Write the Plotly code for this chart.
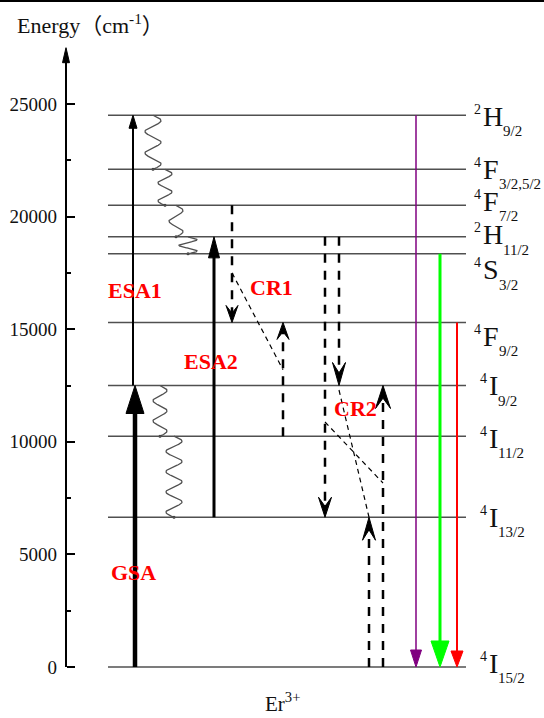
import numpy as np
import plotly.graph_objects as go

# ---- Er3+ energy levels (cm^-1) ----
level_names = ["2H9/2", "4F3/2,5/2", "4F7/2", "2H11/2", "4S3/2",
               "4F9/2", "4I9/2", "4I11/2", "4I13/2", "4I15/2"]
level_energy = [24500, 22100, 20500, 19100, 18350, 15300, 12500, 10250, 6650, 0]
level_mult = ["2", "4", "4", "2", "4", "4", "4", "4", "4", "4"]
level_letter = ["H", "F", "F", "H", "S", "F", "I", "I", "I", "I"]
level_j = ["9/2", "3/2,5/2", "7/2", "11/2", "3/2", "9/2", "9/2", "11/2", "13/2", "15/2"]
label_shift = [-1, 0, 4, 2, -16, -14, 0, -2, 0, 4]   # px offset of each term label

E = dict(zip(level_names, level_energy))

# ---- axis ----
tick_vals = [0, 5000, 10000, 15000, 20000, 25000]
minor_vals = [2500, 7500, 12500, 17500, 22500]
axis_top = 27500

# ---- pumping (solid up arrows): name, column, from, to, width, head w, head l ----
pump_name = ["GSA", "ESA1", "ESA2"]
pump_x = [135, 133, 214]
pump_from = ["4I15/2", "4I9/2", "4I13/2"]
pump_to = ["4I9/2", "2H9/2", "2H11/2"]
pump_width = [4.5, 2, 3]
pump_head = [(18, 28), (8, 13), (11, 21)]

# ---- cross relaxation (dashed arrows) ----
cr_x = [232, 283, 325, 339, 369, 383]
cr_from = ["4F7/2", "4I11/2", "2H11/2", "2H11/2", "4I15/2", "4I15/2"]
cr_to = ["4F9/2", "4F9/2", "4I13/2", "4I9/2", "4I13/2", "4I9/2"]
cr_head = [(12, 17), (12, 17), (13, 20), (13, 23), (13, 23), (15, 23)]
# thin dashed links pairing the CR partners: (x0, E0, x1, E1)
cr_links = [(232, 17500, 283, 13200),
            (325, 10880, 383, 8170),
            (339, 12300, 369, 6650)]

# ---- radiative emission ----
em_x = [416, 440, 457]
em_from = ["2H9/2", "4S3/2", "4F9/2"]
em_color = ["#800080", "#00ff00", "#ff0000"]
em_width = [1.5, 3, 2]
em_head = [(11, 17), (18, 26), (12, 16)]

# ---- non-radiative relaxation squiggles: centre, upper, lower, waves, amplitude ----
nr_x = [153, 165, 176, 188, 160, 174]
nr_upper = ["2H9/2", "4F3/2,5/2", "4F7/2", "2H11/2", "4I9/2", "4I11/2"]
nr_lower = ["4F3/2,5/2", "4F7/2", "2H11/2", "4S3/2", "4I11/2", "4I13/2"]
nr_waves = [2.5, 2, 1.5, 1.5, 2.5, 4]
nr_amp = [8, 7, 7, 9, 7, 8]

# ---- process labels ----
proc_text = ["ESA1", "ESA2", "CR1", "CR2", "GSA"]
proc_x = [135, 211, 271, 355, 133]
proc_y = [16700, 13550, 16850, 11500, 4200]

# ---- geometry ----
W, H = 544, 718
M_T, M_B = 30, 26
PLOT_H = H - M_T - M_B
S = 563 / 25000.0               # px per cm^-1
Y0_PX = 667                     # pixel row of E = 0
y_max = (Y0_PX - M_T) / S
y_min = -(H - M_B - Y0_PX) / S
AXIS_X = 66
LINE_X0, LINE_X1 = 108, 466
SERIF = "Liberation Serif, Times New Roman, serif"


def paper_y(py):
    return (H - M_B - py) / PLOT_H


fig = go.Figure()
shapes = []
annotations = []


def arrow(x, y0, y1, color, width, head_w, head_l, dash=None, barbed=False):
    d = 1 if y1 > y0 else -1
    hl = head_l / S
    base = y1 - d * hl
    notch = y1 - d * hl * 0.55
    shaft_end = notch if barbed else y1 - d * hl * 0.5
    shapes.append(dict(type="line", x0=x, x1=x, y0=y0, y1=shaft_end,
                       line=dict(color=color, width=width, dash=dash)))
    hw = head_w / 2
    if barbed:
        path = f"M{x},{y1} L{x - hw},{base} L{x},{notch} L{x + hw},{base} Z"
    else:
        path = f"M{x},{y1} L{x - hw},{base} L{x + hw},{base} Z"
    shapes.append(dict(type="path", path=path, fillcolor=color,
                       line=dict(color=color, width=1)))


# energy levels
for e in level_energy:
    shapes.append(dict(type="line", x0=LINE_X0, x1=LINE_X1, y0=e, y1=e,
                       line=dict(color="#505050", width=1.5)))

# energy axis with arrow
arrow(AXIS_X, 0, axis_top, "black", 2, 7, 15)

# squiggles for multiphonon relaxation
for xc, up, lo, nw, amp in zip(nr_x, nr_upper, nr_lower, nr_waves, nr_amp):
    t = np.linspace(0, 1, 120)
    ys = E[up] + (E[lo] - E[up]) * t
    xs = xc + amp * np.sin(2 * np.pi * nw * t)
    fig.add_trace(go.Scatter(x=xs, y=ys, mode="lines", hoverinfo="skip",
                             line=dict(color="#505050", width=1.3), showlegend=False))
    fig.add_trace(go.Scatter(x=[xs[-1]], y=[ys[-1]], mode="markers", hoverinfo="skip",
                             marker=dict(color="#333333", size=3), showlegend=False))

# pumping
for x, a, b, w, (hw, hl) in zip(pump_x, pump_from, pump_to, pump_width, pump_head):
    arrow(x, E[a], E[b], "black", w, hw, hl)

# cross relaxation
for x, a, b, (hw, hl) in zip(cr_x, cr_from, cr_to, cr_head):
    arrow(x, E[a], E[b], "black", 2.5, hw, hl, dash="9px,8px", barbed=True)
for x0, e0, x1, e1 in cr_links:
    shapes.append(dict(type="line", x0=x0, x1=x1, y0=e0, y1=e1,
                       line=dict(color="black", width=1.2, dash="5px,4px")))

# emission
for x, a, c, w, (hw, hl) in zip(em_x, em_from, em_color, em_width, em_head):
    arrow(x, E[a], 0, c, w, hw, hl)

# process labels
for t, x, y in zip(proc_text, proc_x, proc_y):
    annotations.append(dict(x=x, y=y, text=f"<b>{t}</b>", showarrow=False,
                            font=dict(family=SERIF, size=22, color="#ff0000"),
                            xanchor="center", yanchor="middle"))

# term symbols
letter_w = {"H": 0.722, "F": 0.556, "S": 0.556, "I": 0.333}
for e, m, L, j, sh in zip(level_energy, level_mult, level_letter, level_j, label_shift):
    lx = 488 if L == "I" else 482
    annotations.append(dict(x=lx, y=e, yshift=sh, text=L, showarrow=False,
                            xanchor="left", yanchor="middle", borderpad=0,
                            font=dict(family=SERIF, size=28, color="#111111")))
    annotations.append(dict(x=lx, y=e, yshift=sh + 7, text=m, showarrow=False,
                            xanchor="right", yanchor="middle", borderpad=0,
                            font=dict(family=SERIF, size=14, color="#111111")))
    annotations.append(dict(x=lx + letter_w[L] * 28, y=e, yshift=sh - 15, text=j,
                            showarrow=False, xanchor="left", yanchor="middle", borderpad=0,
                            font=dict(family=SERIF, size=15, color="#111111")))

# axis title and ion label
annotations.append(dict(x=15 / W, y=paper_y(24), xref="paper", yref="paper",
                        text="Energy（cm<sup>-1</sup>）", showarrow=False,
                        xanchor="left", yanchor="middle",
                        font=dict(family=SERIF + ", Noto Sans CJK SC", size=22, color="#111111")))
annotations.append(dict(x=282 / W, y=paper_y(702), xref="paper", yref="paper",
                        text="Er<sup>3+</sup>", showarrow=False,
                        xanchor="center", yanchor="middle",
                        font=dict(family=SERIF, size=21, color="#111111")))

# frame line across the top
shapes.append(dict(type="line", xref="paper", yref="paper", x0=0, x1=1,
                   y0=paper_y(1), y1=paper_y(1), line=dict(color="black", width=2)))

fig.update_layout(
    width=W, height=H,
    margin=dict(l=0, r=0, t=M_T, b=M_B),
    paper_bgcolor="white", plot_bgcolor="white",
    showlegend=False,
    shapes=shapes, annotations=annotations,
    xaxis=dict(range=[0, W], visible=False, fixedrange=True),
    yaxis=dict(range=[y_min, y_max], anchor="free", position=AXIS_X / W, side="left",
               showgrid=False, zeroline=False, showline=False,
               tickmode="array", tickvals=tick_vals, ticktext=[str(v) for v in tick_vals],
               ticks="inside", ticklen=8, tickwidth=1.5, tickcolor="black",
               minor=dict(tickmode="array", tickvals=minor_vals, ticks="inside",
                          ticklen=4, tickwidth=1.5, tickcolor="black"),
               ticklabelstandoff=9,
               tickfont=dict(family=SERIF, size=19, color="#111111"),
               fixedrange=True),
)

fig.write_html("out.html", config={"displayModeBar": False})
